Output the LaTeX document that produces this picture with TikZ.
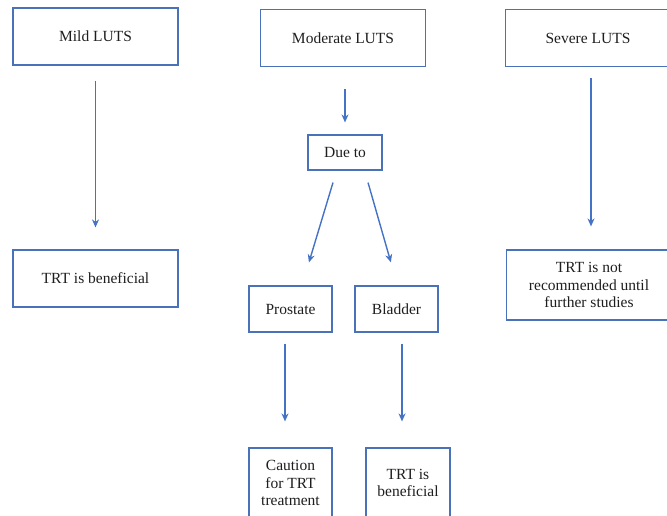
\documentclass[tikz,border=0pt]{standalone}
\usepackage{fontspec}
\setmainfont{Liberation Serif}
\newfontfamily\tnr{Liberation Serif}
\usepackage{xcolor}
\usepackage{tikz}
\usetikzlibrary{arrows.meta}
\definecolor{cajacol}{HTML}{4A72B8}
\definecolor{flechacol}{HTML}{4472C4}
\definecolor{textocol}{HTML}{1E1E1E}

\begin{document}
\begin{tikzpicture}[x=1pt,y=-1pt,
caja/.style={draw=cajacol,line width=1.2pt,minimum width=165pt,minimum height=57pt,align=center,inner sep=0pt,
  text=textocol,font=\tnr\fontsize{15.5}{17.5}\selectfont},
chica/.style={caja,minimum width=83pt,minimum height=46pt},
flecha/.style={draw=flechacol,line width=1.4pt,-{Stealth[length=8pt,width=7pt]}}]
\useasboundingbox(0,0)rectangle(667,515);

\node[caja](mild)at(95.5,36.5){Mild LUTS};
\node[caja](mod)at(343,38){Moderate LUTS};
\node[caja](sev)at(588,38){Severe LUTS};
\node[caja](mildres)at(95.5,278.5){TRT is beneficial};
\node[caja,minimum height=70pt](sevres)at(589,285){TRT is not\\recommended until\\further studies};

\node[chica,minimum width=74pt,minimum height=35pt](due)at(345,152.5){Due to};
\node[chica](pro)at(290.5,309){Prostate};
\node[chica](bla)at(396.5,309){Bladder};
\node[chica,minimum height=70pt](cau)at(290.5,483){Caution\\for TRT\\treatment};
\node[chica,minimum width=84pt,minimum height=70pt](blares)at(408,483){TRT is\\beneficial};

\draw[flecha,shorten <=15pt,shorten >=22pt](mild)--(mildres);
\draw[flecha,shorten <=22pt,shorten >=12pt]([xshift=2pt]mod.south)--(due.north);
\draw[flecha,shorten <=11pt,shorten >=23pt]([xshift=3pt]sev.south)--([xshift=2pt]sevres.north);
\draw[flecha,shorten <=12.5pt,shorten >=24pt]([xshift=-8.4pt]due.south)--([xshift=11.5pt]pro.north);
\draw[flecha,shorten <=12.5pt,shorten >=24pt]([xshift=19.6pt]due.south)--([xshift=1pt]bla.north);
\draw[flecha,shorten <=11pt,shorten >=26pt]([xshift=-5.5pt]pro.south)--([xshift=-5.5pt]cau.north);
\draw[flecha,shorten <=11pt,shorten >=26pt]([xshift=5.5pt]bla.south)--([xshift=-6pt]blares.north);

\end{tikzpicture}
\end{document}
